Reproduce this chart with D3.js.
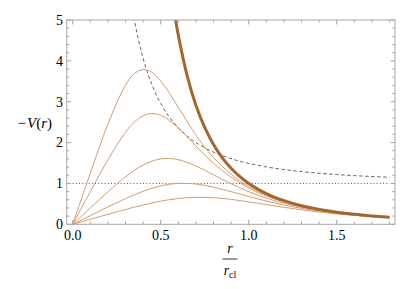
<!DOCTYPE html>
<html>
<head>
<meta charset="utf-8">
<script src="https://cdn.jsdelivr.net/npm/d3@7"></script>
<style>
  body { margin: 0; background: #fff; }
  text { font-family: "Liberation Serif", "DejaVu Serif", serif; fill: #000; }
</style>
</head>
<body>
<svg width="407" height="289"></svg>
<script>
// sample radii (r / r_cl) for the five thin curves
var rThin = [0, 0.1, 0.2, 0.3, 0.35, 0.4, 0.45, 0.5, 0.55, 0.6, 0.65, 0.7, 0.75, 0.8,
             0.9, 1.0, 1.1, 1.2, 1.3, 1.4, 1.5, 1.6, 1.7, 1.8];

var thin1 = [0, 1.248, 2.451, 3.405, 3.684, 3.788, 3.719, 3.509, 3.207, 2.863, 2.515, 2.187, 1.892, 1.634,
             1.223, 0.926, 0.712, 0.557, 0.443, 0.357, 0.292, 0.241, 0.202, 0.170];
var thin2 = [0, 0.799, 1.580, 2.254, 2.500, 2.656, 2.711, 2.667, 2.540, 2.357, 2.142, 1.917, 1.699, 1.496,
             1.152, 0.889, 0.692, 0.546, 0.436, 0.353, 0.289, 0.240, 0.201, 0.169];
var thin3 = [0, 0.400, 0.795, 1.162, 1.321, 1.451, 1.546, 1.600, 1.611, 1.581, 1.517, 1.428, 1.324, 1.213,
             0.993, 0.800, 0.642, 0.516, 0.419, 0.342, 0.282, 0.235, 0.198, 0.167];
var thin4 = [0, 0.213, 0.424, 0.627, 0.722, 0.807, 0.881, 0.939, 0.980, 1.001, 1.002, 0.986, 0.954, 0.909,
             0.799, 0.680, 0.569, 0.472, 0.391, 0.325, 0.271, 0.228, 0.193, 0.164];
var thin5 = [0, 0.122, 0.243, 0.362, 0.419, 0.473, 0.523, 0.567, 0.603, 0.632, 0.651, 0.660, 0.660, 0.651,
             0.610, 0.549, 0.482, 0.415, 0.354, 0.300, 0.255, 0.217, 0.185, 0.159];

// thick envelope curve
var rThick = [0.58, 0.6, 0.65, 0.7, 0.75, 0.8, 0.85, 0.9, 0.95, 1.0, 1.1, 1.2, 1.3, 1.4, 1.5, 1.6, 1.7, 1.8];
var thick  = [5.125, 4.630, 3.641, 2.915, 2.370, 1.953, 1.628, 1.372, 1.166, 1.0, 0.751, 0.579, 0.455,
              0.364, 0.296, 0.244, 0.204, 0.171];

// dashed curve
var rDash = [0.33, 0.35, 0.4, 0.45, 0.5, 0.55, 0.6, 0.65, 0.7, 0.8, 0.9, 1.0, 1.1, 1.2, 1.3, 1.4, 1.5, 1.6, 1.7, 1.8];
var dash  = [5.50, 5.00, 4.063, 3.420, 2.960, 2.620, 2.361, 2.160, 2.000, 1.766, 1.605, 1.490, 1.405,
             1.340, 1.290, 1.250, 1.218, 1.191, 1.170, 1.151];

// dotted reference level
var rDot = [0, 1.8];
var dot  = [1, 1];

var xTickVals = [0, 0.5, 1.0, 1.5];
var xTickLabels = ["0.0", "0.5", "1.0", "1.5"];
var yTickVals = [0, 1, 2, 3, 4, 5];
var yTickLabels = ["0", "1", "2", "3", "4", "5"];

var svg = d3.select("svg"),
    pLeft = 66.7, pRight = 395, pTop = 20, pBottom = 224.3;

var x = d3.scaleLinear().domain([-0.034, 1.831]).range([pLeft, pRight]);
var y = d3.scaleLinear().domain([0, 5]).range([pBottom, pTop]);

var frameColor = "#a6a6a6";

svg.append("defs").append("clipPath").attr("id", "clip")
  .append("rect")
    .attr("x", pLeft).attr("y", pTop)
    .attr("width", pRight - pLeft).attr("height", pBottom - pTop);

function zip(xs, ys) { return xs.map(function(v, i) { return [v, ys[i]]; }); }

var line = d3.line()
    .x(function(d) { return x(d[0]); })
    .y(function(d) { return y(d[1]); })
    .curve(d3.curveCatmullRom.alpha(0.5));

var g = svg.append("g").attr("clip-path", "url(#clip)");

// dotted level
g.append("path")
    .attr("d", d3.line().x(function(d) { return x(d[0]); }).y(function(d) { return y(d[1]); })(zip(rDot, dot)))
    .attr("fill", "none")
    .attr("stroke", "#555")
    .attr("stroke-width", 1)
    .attr("stroke-dasharray", "1,2.2");

// dashed curve
g.append("path")
    .attr("d", line(zip(rDash, dash)))
    .attr("fill", "none")
    .attr("stroke", "#555")
    .attr("stroke-width", 0.9)
    .attr("stroke-dasharray", "3.5,2.5");

// thin curves
[thin1, thin2, thin3, thin4, thin5].forEach(function(s) {
  g.append("path")
      .attr("d", line(zip(rThin, s)))
      .attr("fill", "none")
      .attr("stroke", "#cf9d72")
      .attr("stroke-width", 1);
});

// thick curve
g.append("path")
    .attr("d", line(zip(rThick, thick)))
    .attr("fill", "none")
    .attr("stroke", "#a3672d")
    .attr("stroke-width", 3);

// frame
svg.append("rect")
    .attr("x", pLeft).attr("y", pTop)
    .attr("width", pRight - pLeft).attr("height", pBottom - pTop)
    .attr("fill", "none")
    .attr("stroke", frameColor)
    .attr("stroke-width", 1);

// ticks
var xMinor = d3.range(0, 19).map(function(i) { return i / 10; });
var yMinor = d3.range(0, 26).map(function(i) { return i / 5; });
function isMajor(v, list) { return list.some(function(m) { return Math.abs(m - v) < 1e-6; }); }

var ticks = svg.append("g").attr("stroke", frameColor).attr("stroke-width", 1);

xMinor.forEach(function(v) {
  var len = isMajor(v, xTickVals) ? 4.5 : 2.7;
  ticks.append("line").attr("x1", x(v)).attr("x2", x(v)).attr("y1", pBottom).attr("y2", pBottom - len);
  ticks.append("line").attr("x1", x(v)).attr("x2", x(v)).attr("y1", pTop).attr("y2", pTop + len);
});
yMinor.forEach(function(v) {
  var len = isMajor(v, yTickVals) ? 4.5 : 2.7;
  ticks.append("line").attr("y1", y(v)).attr("y2", y(v)).attr("x1", pLeft).attr("x2", pLeft + len);
  ticks.append("line").attr("y1", y(v)).attr("y2", y(v)).attr("x1", pRight).attr("x2", pRight - len);
});

// tick labels
svg.selectAll(".xlab")
  .data(xTickVals)
  .enter().append("text")
    .attr("class", "xlab")
    .attr("x", function(d) { return x(d); })
    .attr("y", 240)
    .attr("text-anchor", "middle")
    .style("font-size", "14px")
    .text(function(d, i) { return xTickLabels[i]; });

svg.selectAll(".ylab")
  .data(yTickVals)
  .enter().append("text")
    .attr("class", "ylab")
    .attr("x", 63)
    .attr("y", function(d) { return y(d); })
    .attr("dy", "0.35em")
    .attr("text-anchor", "end")
    .style("font-size", "14px")
    .text(function(d, i) { return yTickLabels[i]; });

// axis labels
var yl = svg.append("text")
    .attr("x", 52)
    .attr("y", 128)
    .attr("text-anchor", "end")
    .style("font-size", "15px");
yl.append("tspan").text("\u2212");
yl.append("tspan").attr("dx", 1).style("font-style", "italic").text("V");
yl.append("tspan").text("(");
yl.append("tspan").style("font-style", "italic").text("r");
yl.append("tspan").text(")");

svg.append("text")
    .attr("x", 230)
    .attr("y", 253)
    .attr("text-anchor", "middle")
    .style("font-size", "14px")
    .style("font-style", "italic")
    .text("r");

svg.append("line")
    .attr("x1", 222.5).attr("x2", 237.5)
    .attr("y1", 259).attr("y2", 259)
    .attr("stroke", "#000").attr("stroke-width", 0.8);

var xl = svg.append("text")
    .attr("x", 230)
    .attr("y", 275)
    .attr("text-anchor", "middle")
    .style("font-size", "14px");
xl.append("tspan").style("font-style", "italic").text("r");
xl.append("tspan").attr("dy", 3).style("font-size", "10px").text("cl");
</script>
</body>
</html>
